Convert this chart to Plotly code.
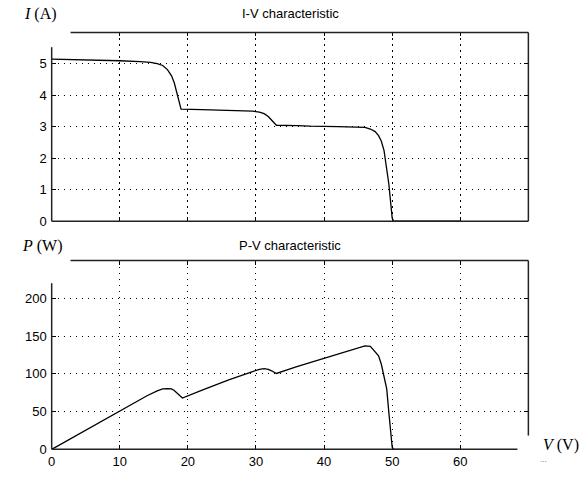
import plotly.graph_objects as go

# ---- data ----
V_iv = [0, 5, 10, 13, 14.5, 15.5, 16.3, 17, 17.6, 18, 18.4, 18.8, 19.0, 22, 26, 29.5,
        30.5, 31.2, 31.8, 32.3, 32.7, 33.0, 36, 38, 42, 45, 46, 46.8, 47.5, 48, 48.4,
        48.8, 49.2, 49.5, 49.8, 50.0, 50.2, 55, 60]
I_iv = [5.15, 5.13, 5.10, 5.07, 5.05, 5.01, 4.95, 4.82, 4.62, 4.40, 4.05, 3.70, 3.56,
        3.55, 3.53, 3.50, 3.47, 3.42, 3.33, 3.22, 3.12, 3.05, 3.04, 3.02, 3.01, 3.00,
        2.98, 2.93, 2.85, 2.72, 2.55, 2.25, 1.70, 1.20, 0.55, 0.10, 0.0, 0.0, 0.0]

V_pv = [0, 5, 10, 14, 15.5, 16.3, 17, 17.6, 18, 18.4, 18.8, 19.2, 22, 26, 29.5, 30.5,
        31.2, 31.8, 32.3, 32.7, 33.0, 36, 38, 42, 45, 46, 46.8, 47.5, 48, 48.4, 48.8,
        49.2, 49.5, 49.8, 50.0, 50.2, 55, 60]
P_pv = [0, 25.5, 51, 71, 77.5, 80, 80.5, 80, 78, 75, 71, 68, 78, 92, 103, 106, 107,
        106, 104, 102, 100.5, 109.5, 115, 126, 135, 137, 136.5, 130, 124, 113, 98, 80,
        50, 18, 3, 0, 0, 0]

v_ticks = [0, 10, 20, 30, 40, 50, 60]
i_ticks = [0, 1, 2, 3, 4, 5]
p_ticks = [0, 50, 100, 150, 200]

W, H = 582, 477


def px(x):
    return x / W


def py(y):
    return 1 - y / H


fig = go.Figure()
fig.add_trace(go.Scatter(x=V_iv, y=I_iv, mode="lines", line=dict(color="black", width=1.3),
                         xaxis="x", yaxis="y", showlegend=False))
fig.add_trace(go.Scatter(x=V_pv, y=P_pv, mode="lines", line=dict(color="black", width=1.3),
                         xaxis="x2", yaxis="y2", showlegend=False))

tickfont = dict(family="Arial, Liberation Sans", size=13, color="black")
grid = dict(showgrid=True, gridcolor="black", gridwidth=1, griddash="1.5px,4.5px",
            zeroline=False, showline=False, ticks="inside", ticklen=4,
            tickcolor="black", tickwidth=1, mirror="ticks", tickfont=tickfont)

xdom = [px(48), px(528)]
fig.update_layout(
    width=W, height=H, margin=dict(l=0, r=0, t=0, b=0),
    paper_bgcolor="white", plot_bgcolor="white",
    xaxis=dict(domain=xdom, range=[0, 70], tickvals=v_ticks, showticklabels=False,
               anchor="y", **grid),
    yaxis=dict(domain=[py(225), py(33)], range=[0, 6], tickvals=i_ticks, anchor="x",
               ticklabelstandoff=4, **grid),
    xaxis2=dict(domain=xdom, range=[0, 70], tickvals=v_ticks, anchor="y2",
                ticklabelstandoff=3, **grid),
    yaxis2=dict(domain=[py(457), py(265)], range=[0, 250], tickvals=p_ticks, anchor="x2",
                ticklabelstandoff=4, **grid),
)

shapes = []
lc = dict(color="#222", width=1.5)


def seg(x0, y0, x1, y1, line=lc):
    shapes.append(dict(type="line", xref="paper", yref="paper", x0=px(x0), y0=py(y0),
                       x1=px(x1), y1=py(y1), line=line, layer="above"))


white = dict(color="white", width=3)
# hide grid pieces where the frame is cut away
seg(48, 30, 48, 47, white)
seg(48, 262, 48, 287, white)
seg(518, 457, 531, 457, white)
seg(528, 444, 528, 460, white)
# top panel frame
seg(48, 48, 48, 225)
seg(48, 225, 528, 225)
seg(67, 33, 528, 33)
seg(528, 33, 528, 225)
# bottom panel frame
seg(48, 288, 48, 457)
seg(48, 457, 517, 457)
seg(67, 265, 528, 265)
seg(528, 265, 528, 443)
fig.update_layout(shapes=shapes)

ann = []
ttl = dict(family="Arial, Liberation Sans", size=13, color="black")
ann.append(dict(text="I-V characteristic", x=px(288), y=py(14), xref="paper", yref="paper",
                showarrow=False, font=ttl, xanchor="center", yanchor="middle"))
ann.append(dict(text="P-V characteristic", x=px(288), y=py(250), xref="paper", yref="paper",
                showarrow=False, font=ttl, xanchor="center", yanchor="middle"))
lab = dict(family="Times New Roman, Liberation Serif", size=16, color="black")
ann.append(dict(text="<i>I</i> (A)", x=px(18), y=py(14), xref="paper", yref="paper",
                showarrow=False, font=lab, xanchor="left", yanchor="middle"))
ann.append(dict(text="<i>P</i> (W)", x=px(16), y=py(250), xref="paper", yref="paper",
                showarrow=False, font=lab, xanchor="left", yanchor="middle"))
ann.append(dict(text="<i>V</i> (V)", x=px(581), y=py(453), xref="paper", yref="paper",
                showarrow=False, font=lab, xanchor="right", yanchor="middle"))
ann.append(dict(text="...", x=px(543), y=py(467), xref="paper", yref="paper",
                showarrow=False, font=dict(family="Arial", size=8, color="#555"),
                xanchor="center", yanchor="middle"))
fig.update_layout(annotations=ann)

fig.write_html("out.html")
